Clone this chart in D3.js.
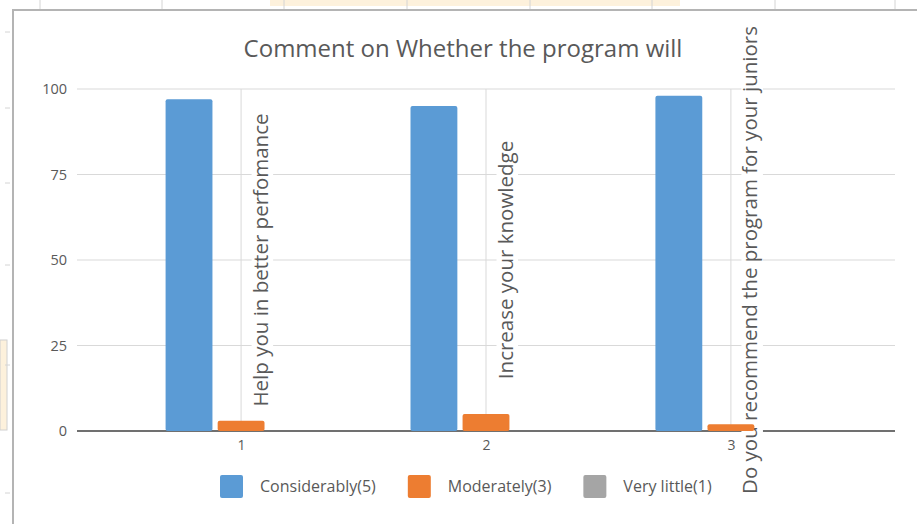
<!DOCTYPE html>
<html>
<head>
<meta charset="utf-8">
<script src="https://cdn.jsdelivr.net/npm/d3@7"></script>
<style>
  body { margin: 0; background: #fff; }
  text { font-family: "Open Sans", "Noto Sans", sans-serif; fill: #595959; }
</style>
</head>
<body>
<div id="my_dataviz"></div>
<script>
// data
const categories = ["1", "2", "3"];
const seriesNames = ["Considerably(5)", "Moderately(3)", "Very little(1)"];
const considerably = [97, 95, 98];
const moderately = [3, 5, 2];
const veryLittle = [0, 0, 0];
const questions = ["Help you in better perfomance", "Increase your knowledge", "Do you recommend the program for your juniors"];
const yTicks = [0, 25, 50, 75, 100];
const colors = ["#5B9BD5", "#ED7D31", "#A5A5A5"];
const title = "Comment on Whether the program will";

// the page / plot area
const W = 917, H = 524;
const plot = {left: 77, right: 895, top: 89, bottom: 431};

const svg = d3.select("#my_dataviz")
  .append("svg")
    .attr("width", W)
    .attr("height", H);

// ----------------------------- spreadsheet behind the chart
svg.append("rect").attr("x", 270).attr("y", 0).attr("width", 410).attr("height", 6).style("fill", "#fdf1dc");
[40, 162, 284, 407, 530, 652, 775, 895].forEach(function(x) {
  svg.append("line").attr("x1", x).attr("x2", x).attr("y1", 0).attr("y2", 9)
    .style("stroke", "#d4d4d4");
});
svg.append("rect").attr("x", 0).attr("y", 340).attr("width", 7).attr("height", 90)
  .style("fill", "#fdf1dc").style("stroke", "#d0d0d0");
[32, 108, 183, 265, 365, 493].forEach(function(y) {
  svg.append("line").attr("x1", 5).attr("x2", 10).attr("y1", y).attr("y2", y)
    .style("stroke", "#d4d4d4");
});

// chart box
svg.append("rect")
    .attr("x", 13).attr("y", 10)
    .attr("width", W).attr("height", H)
    .style("fill", "#fff")
    .style("stroke", "#b4b4b4")
    .style("stroke-width", 2);

// ----------------------------- scales
const x0 = d3.scalePoint().domain(categories).range([plot.left, plot.right]).padding(0.67);
const x1 = d3.scaleBand().domain(seriesNames).range([-75.5, 75.5]).paddingInner(0.1);
const y = d3.scaleLinear().domain([0, 100]).range([plot.bottom, plot.top]);

const table = categories.map(function(c, i) {
  return {cat: c, values: [considerably[i], moderately[i], veryLittle[i]]};
});

// ----------------------------- gridlines
svg.append("g")
  .selectAll("line")
  .data(yTicks.filter(function(d) { return d > 0; }))
  .join("line")
    .attr("x1", plot.left).attr("x2", plot.right)
    .attr("y1", function(d) { return y(d); })
    .attr("y2", function(d) { return y(d); })
    .style("stroke", "#d9d9d9");

svg.append("g")
  .selectAll("line")
  .data(categories)
  .join("line")
    .attr("x1", function(d) { return x0(d); })
    .attr("x2", function(d) { return x0(d); })
    .attr("y1", plot.top).attr("y2", plot.bottom)
    .style("stroke", "#d9d9d9");

// Add the Y Axis (labels only)
const yAxis = svg.append("g")
    .attr("transform", "translate(" + plot.left + ",0)")
    .call(d3.axisLeft(y).tickValues(yTicks).tickSize(0).tickPadding(10));
yAxis.select(".domain").remove();
yAxis.selectAll("text").style("font-size", "14.5px").style("fill", "#595959")
    .style("font-family", "'Open Sans', sans-serif");

// Add the X Axis
svg.append("line")
    .attr("x1", plot.left).attr("x2", plot.right)
    .attr("y1", y(0)).attr("y2", y(0))
    .style("stroke", "#404040")
    .style("stroke-width", 1.5);

const xAxis = svg.append("g")
    .attr("transform", "translate(0," + y(0) + ")")
    .call(d3.axisBottom(x0).tickSize(0).tickPadding(9));
xAxis.select(".domain").remove();
xAxis.selectAll("text").style("font-size", "14px").style("fill", "#595959")
    .style("font-family", "'Open Sans', sans-serif");

// ----------------------------- question labels (white boxes first)
const labelSize = 20.5;
const labels = svg.append("g")
  .selectAll("g")
  .data(questions)
  .join("g")
    .attr("transform", function(d, i) {
      return "translate(" + (x0(categories[i]) + 26.5) + "," + ((plot.top + plot.bottom) / 2) + ") rotate(-90)";
    });

labels.append("text")
    .attr("text-anchor", "middle")
    .style("font-size", labelSize + "px")
    .text(function(d) { return d; });

labels.each(function() {
  const g = d3.select(this);
  const len = g.select("text").node().getComputedTextLength();
  g.insert("rect", "text")
    .attr("x", -len / 2 - 2).attr("y", -labelSize * 0.78)
    .attr("width", len + 4).attr("height", labelSize * 1.05)
    .style("fill", "#fff");
});

// ----------------------------- bars
svg.append("g")
  .selectAll("g")
  .data(table)
  .join("g")
    .attr("transform", function(d) { return "translate(" + x0(d.cat) + ",0)"; })
  .selectAll("rect")
  .data(function(d) { return d.values.map(function(v, k) { return {key: seriesNames[k], value: v, k: k}; }); })
  .join("rect")
    .attr("x", function(d) { return x1(d.key); })
    .attr("y", function(d) { return y(d.value); })
    .attr("width", x1.bandwidth())
    .attr("height", function(d) { return y(0) - y(d.value); })
    .attr("rx", 2)
    .style("fill", function(d) { return colors[d.k]; });

// labels text on top of bars
labels.each(function() { this.parentNode.appendChild(this); });

// ----------------------------- title
svg.append("text")
    .attr("x", 463)
    .attr("y", 57)
    .attr("text-anchor", "middle")
    .style("font-size", "24px")
    .text(title);

// ----------------------------- legend
const legend = svg.append("g");
let lx = 220;
seriesNames.forEach(function(name, i) {
  legend.append("rect")
      .attr("x", lx).attr("y", 475)
      .attr("width", 23).attr("height", 23)
      .attr("rx", 2)
      .style("fill", colors[i]);
  const t = legend.append("text")
      .attr("x", lx + 40)
      .attr("y", 492)
      .style("font-size", "16px")
      .text(name);
  lx += 40 + t.node().getComputedTextLength() + 32;
});
</script>
</body>
</html>
